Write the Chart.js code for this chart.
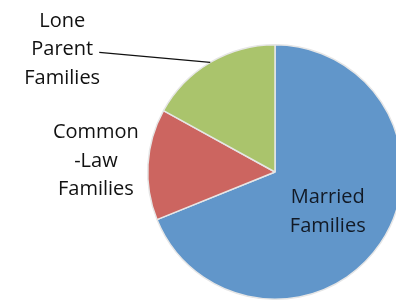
<!DOCTYPE html>
<html>
<head>
<meta charset="utf-8">
<script src="https://cdn.jsdelivr.net/npm/chart.js@4"></script>
<style>
html,body{margin:0;padding:0;background:#fff;overflow:hidden;width:396px;height:307px;}
#wrap{width:410px;height:307px;position:relative;}
</style>
</head>
<body>
<div id="wrap"><canvas id="c"></canvas></div>
<script>
const categories = ["Married Families", "Common-Law Families", "Lone Parent Families"];
const labelLines = [["Married", "Families"], ["Common", "-Law", "Families"], ["Lone", "Parent", "Families"]];
const values = [68.9, 14.1, 17.0];
const colors = ["#6196CA", "#CC6560", "#AAC46C"];

const labelPlugin = {
  id: 'sliceLabels',
  afterDatasetsDraw(chart) {
    const ctx = chart.ctx;
    const meta = chart.getDatasetMeta(0);
    ctx.save();
    ctx.font = '20px "Open Sans", sans-serif';
    ctx.textAlign = 'center';
    ctx.textBaseline = 'middle';
    const lh = 28.5;
    meta.data.forEach((arc, i) => {
      const mid = (arc.startAngle + arc.endAngle) / 2;
      const r = arc.outerRadius;
      const cx = arc.x, cy = arc.y;
      let tx, ty;
      if (i === 0) {
        tx = cx + Math.cos(mid) * r * 0.5;
        ty = cy + Math.sin(mid) * r * 0.5 + 4;
        ctx.fillStyle = '#121a26';
      } else if (i === 1) {
        tx = cx + Math.cos(mid) * r * 1.41;
        ty = cy + Math.sin(mid) * r * 1.41;
        ctx.fillStyle = '#111';
      } else {
        const ex = cx + Math.cos(mid) * r, ey = cy + Math.sin(mid) * r;
        const lx = ex - 111, ly = ey - 10;
        ctx.strokeStyle = '#111';
        ctx.lineWidth = 1.2;
        ctx.beginPath();
        ctx.moveTo(lx, ly);
        ctx.lineTo(ex, ey);
        ctx.stroke();
        tx = lx - 37;
        ty = ly - 3;
        ctx.fillStyle = '#111';
      }
      const lines = labelLines[i];
      const start = ty - (lines.length - 1) * lh / 2;
      lines.forEach((t, k) => ctx.fillText(t, tx, start + k * lh));
    });
    ctx.restore();
  }
};

new Chart(document.getElementById('c'), {
  type: 'pie',
  data: {
    labels: categories,
    datasets: [{
      data: values,
      backgroundColor: colors,
      borderColor: '#e6e6e6',
      borderWidth: 1.5
    }]
  },
  options: {
    responsive: true,
    maintainAspectRatio: false,
    animation: false,
    layout: { padding: { left: 147, right: 7, top: 44, bottom: 7 } },
    plugins: { legend: { display: false }, tooltip: { enabled: false } }
  },
  plugins: [labelPlugin]
});
</script>
</body>
</html>
